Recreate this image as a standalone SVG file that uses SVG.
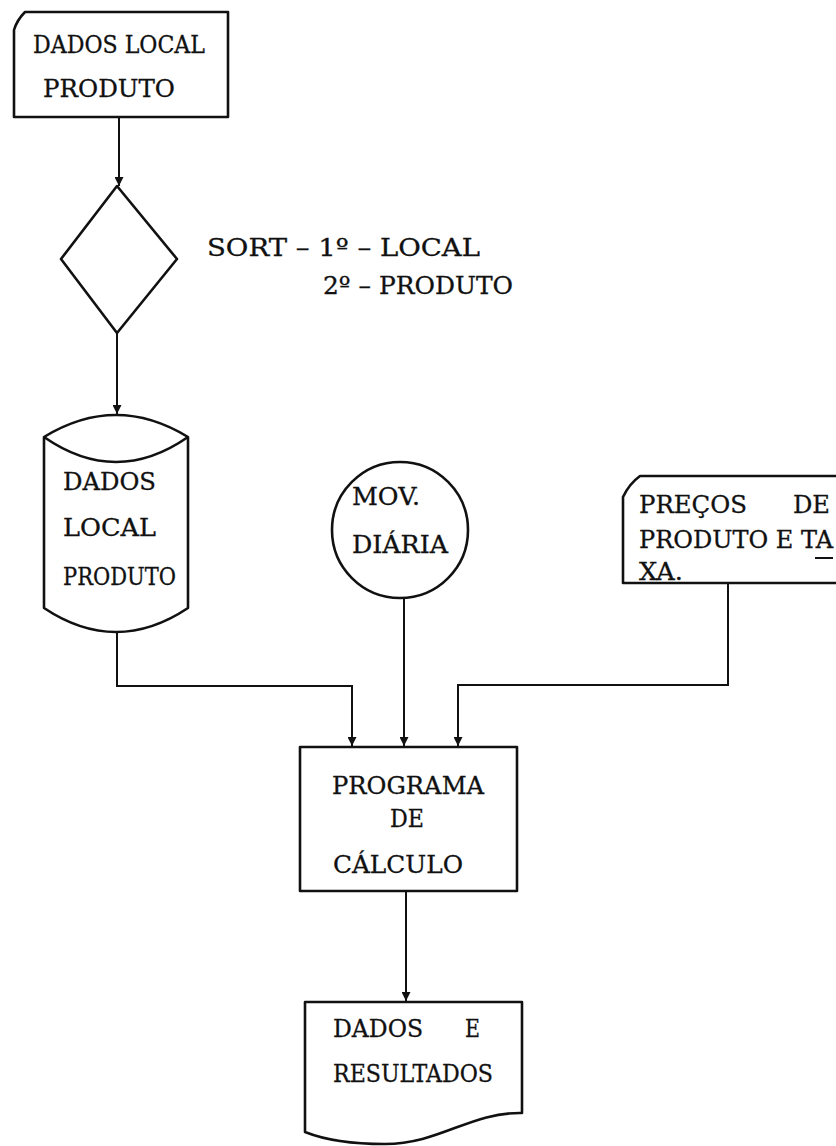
<svg xmlns="http://www.w3.org/2000/svg" width="836" height="1146" viewBox="0 0 836 1146">
<style>
.shape{fill:#fff;stroke:#111;stroke-width:2.6;stroke-linejoin:round}
.edge{fill:none;stroke:#111;stroke-width:2}
text{font-family:"DejaVu Serif","Liberation Serif",serif;font-size:24px;fill:#111;stroke:#111;stroke-width:0.3}
</style>
<defs>
<marker id="arr" viewBox="0 0 10 10" refX="10" refY="5" markerWidth="9" markerHeight="9" markerUnits="userSpaceOnUse" orient="auto">
<path d="M0,0 L10,5 L0,10 Z" fill="#111"/>
</marker>
</defs>
<rect width="836" height="1146" fill="#fff"/>
<g id="connectors">
<path class="edge" d="M119,117 V186" marker-end="url(#arr)"/>
<path class="edge" d="M117,333 V414" marker-end="url(#arr)"/>
<path class="edge" d="M117,632 V686 H352 V746" marker-end="url(#arr)"/>
<path class="edge" d="M404,598 V746" marker-end="url(#arr)"/>
<path class="edge" d="M728,583 V685 H458 V746" marker-end="url(#arr)"/>
<path class="edge" d="M406,891 V1001" marker-end="url(#arr)"/>
</g>
<g id="card-dados">
<path class="shape" d="M25,12 H228 V117 H14 V30 Q17,20 25,12 Z"/>
<text x="33" y="53" textLength="172" lengthAdjust="spacingAndGlyphs">DADOS LOCAL</text>
<text x="43" y="97" textLength="132" lengthAdjust="spacingAndGlyphs">PRODUTO</text>
</g>
<g id="sort">
<polygon class="shape" points="117,186 177,259 117,333 61,259"/>
</g>
<g id="sort-label">
<text x="207" y="256" textLength="273" lengthAdjust="spacingAndGlyphs">SORT – 1º – LOCAL</text>
<text x="323" y="294" textLength="190" lengthAdjust="spacingAndGlyphs">2º – PRODUTO</text>
</g>
<g id="disk">
<path class="shape" d="M44,437 Q116,393 188,437 V608 Q116,656 44,608 Z"/>
<path class="edge" style="stroke-width:2.6" d="M44,437 Q116,487 188,437"/>
<text x="63" y="490" textLength="93" lengthAdjust="spacingAndGlyphs">DADOS</text>
<text x="63" y="536" textLength="93" lengthAdjust="spacingAndGlyphs">LOCAL</text>
<text x="63" y="585" textLength="113" lengthAdjust="spacingAndGlyphs">PRODUTO</text>
</g>
<g id="mov">
<circle class="shape" cx="400" cy="530" r="68"/>
<text x="352" y="505" textLength="68" lengthAdjust="spacingAndGlyphs">MOV.</text>
<text x="352" y="553" textLength="96" lengthAdjust="spacingAndGlyphs">DIÁRIA</text>
</g>
<g id="card-precos">
<path class="shape" d="M640,476 H845 V583 H623 V497 Q629,484 640,476 Z"/>
<text x="639" y="513" textLength="108" lengthAdjust="spacingAndGlyphs">PREÇOS</text>
<text x="793" y="513" textLength="37" lengthAdjust="spacingAndGlyphs">DE</text>
<text x="639" y="548" textLength="194" lengthAdjust="spacingAndGlyphs">PRODUTO E TA</text>
<line class="edge" x1="815" y1="558" x2="833" y2="558"/>
<text x="639" y="580" textLength="44" lengthAdjust="spacingAndGlyphs">XA.</text>
</g>
<g id="programa">
<rect class="shape" x="300" y="747" width="217" height="144"/>
<text x="332" y="794" textLength="152" lengthAdjust="spacingAndGlyphs">PROGRAMA</text>
<text x="390" y="827" textLength="34" lengthAdjust="spacingAndGlyphs">DE</text>
<text x="333" y="873" textLength="130" lengthAdjust="spacingAndGlyphs">CÁLCULO</text>
</g>
<g id="resultados">
<path class="shape" d="M305,1002 H522 V1113 C470,1112 440,1144 385,1144 C350,1144 325,1140 305,1132 Z"/>
<text x="333" y="1037" textLength="90" lengthAdjust="spacingAndGlyphs">DADOS</text>
<text x="465" y="1037" textLength="15" lengthAdjust="spacingAndGlyphs">E</text>
<text x="333" y="1082" textLength="160" lengthAdjust="spacingAndGlyphs">RESULTADOS</text>
</g>
</svg>
